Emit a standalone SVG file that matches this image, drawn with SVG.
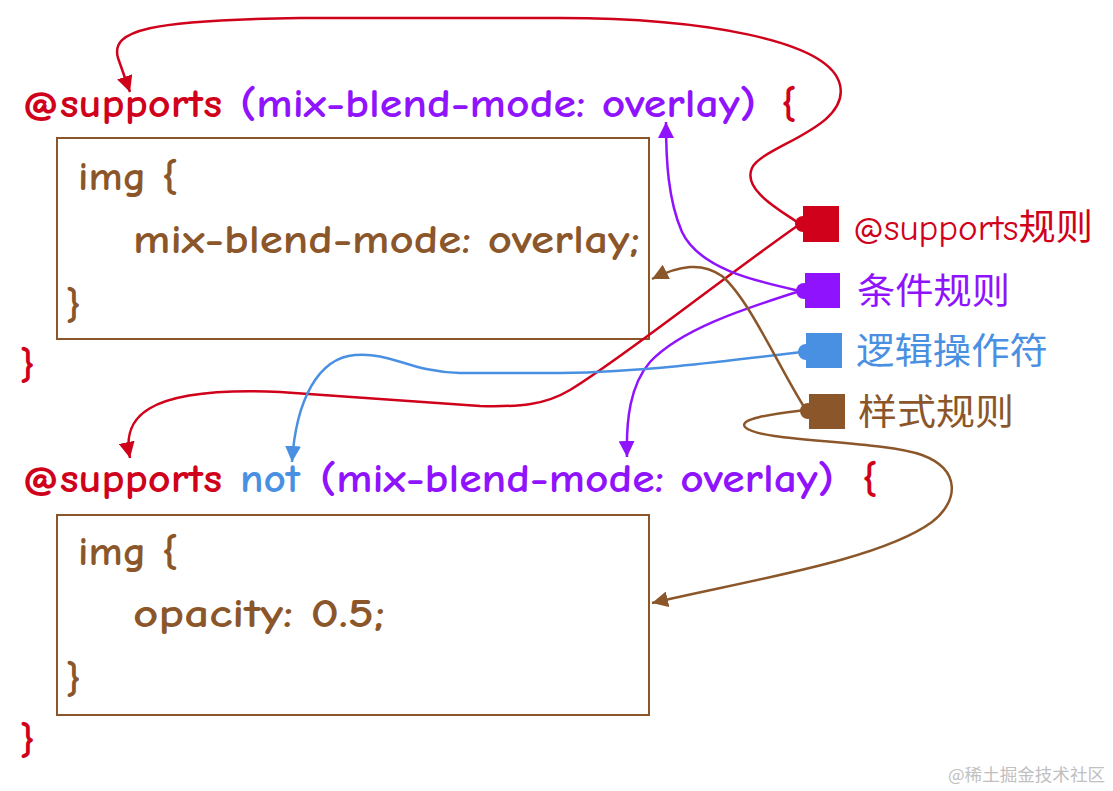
<svg xmlns="http://www.w3.org/2000/svg" width="1113" height="791" viewBox="0 0 1113 791">
<defs>
<style>
.code{font-family:"Comic Neue","DejaVu Sans","Noto Sans CJK SC",sans-serif;font-size:40px;font-weight:bold}
.cjk{font-family:"Noto Sans CJK SC",sans-serif;font-size:36px;font-weight:normal}
.red{fill:#D0021B}.pur{fill:#9013FE}.blu{fill:#4A90E2}.brn{fill:#8B572A}
.box{fill:none;stroke:#8B572A;stroke-width:2}
.c{fill:none;stroke-width:2.5}
</style>
<marker id="aR" markerUnits="userSpaceOnUse" markerWidth="18" markerHeight="16" refX="16" refY="8" orient="auto"><path d="M0,0 L16,8 L0,16 Z" fill="#D0021B"/></marker>
<marker id="aP" markerUnits="userSpaceOnUse" markerWidth="18" markerHeight="16" refX="16" refY="8" orient="auto"><path d="M0,0 L16,8 L0,16 Z" fill="#9013FE"/></marker>
<marker id="aB" markerUnits="userSpaceOnUse" markerWidth="18" markerHeight="16" refX="16" refY="8" orient="auto"><path d="M0,0 L16,8 L0,16 Z" fill="#4A90E2"/></marker>
<marker id="aN" markerUnits="userSpaceOnUse" markerWidth="18" markerHeight="16" refX="16" refY="8" orient="auto"><path d="M0,0 L16,8 L0,16 Z" fill="#8B572A"/></marker>
</defs>
<rect width="1113" height="791" fill="#fff"/>

<g id="block1">
<text class="code red" x="22" y="117" textLength="200" lengthAdjust="spacingAndGlyphs">@supports</text>
<text class="code pur" x="240" y="117" textLength="516" lengthAdjust="spacingAndGlyphs">(mix-blend-mode: overlay)</text>
<text class="code red" x="781" y="117">{</text>
<rect class="box" x="57" y="138" width="592" height="201"/>
<text class="code brn" x="78" y="190" textLength="100" lengthAdjust="spacingAndGlyphs">img {</text>
<text class="code brn" x="133" y="253" textLength="507" lengthAdjust="spacingAndGlyphs">mix-blend-mode: overlay;</text>
<text class="code brn" x="66" y="318">}</text>
<text class="code red" x="20" y="378">}</text>
</g>

<g id="block2">
<text class="code red" x="22" y="492" textLength="200" lengthAdjust="spacingAndGlyphs">@supports</text>
<text class="code blu" x="240" y="492" textLength="60" lengthAdjust="spacingAndGlyphs">not</text>
<text class="code pur" x="320" y="492" textLength="514" lengthAdjust="spacingAndGlyphs">(mix-blend-mode: overlay)</text>
<text class="code red" x="862" y="492">{</text>
<rect class="box" x="57" y="515" width="592" height="200"/>
<text class="code brn" x="78" y="565" textLength="100" lengthAdjust="spacingAndGlyphs">img {</text>
<text class="code brn" x="133" y="627" textLength="252" lengthAdjust="spacingAndGlyphs">opacity: 0.5;</text>
<text class="code brn" x="66" y="692">}</text>
<text class="code red" x="20" y="753">}</text>
</g>

<g id="connectors">
<path class="c" stroke="#D0021B" marker-end="url(#aR)" d="M800,224 C780,210 742,190 752,168 C762,146 850,128 840,85 C830,40 700,18 560,18 L300,18 C150,20 110,30 118,58 L130,92"/>
<path class="c" stroke="#D0021B" marker-end="url(#aR)" d="M800,224 C720,280 620,360 570,390 C545,405 520,407 480,406 L280,392 C140,386 122,420 130,458"/>
<path class="c" stroke="#9013FE" marker-end="url(#aP)" d="M800,291 C760,282 700,270 682,232 C668,200 666,160 666,122"/>
<path class="c" stroke="#9013FE" marker-end="url(#aP)" d="M800,291 C740,310 680,330 650,362 C630,385 626,420 627,457"/>
<path class="c" stroke="#4A90E2" marker-end="url(#aB)" d="M802,352 C720,362 640,372 560,373 L460,373 C410,372 392,352 355,355 C318,358 296,400 292,462"/>
<path class="c" stroke="#8B572A" marker-end="url(#aN)" d="M806,410 C780,370 750,300 722,276 C702,262 680,265 652,279"/>
<path class="c" stroke="#8B572A" marker-end="url(#aN)" d="M806,410 C775,414 738,418 745,427 C758,442 880,440 922,455 C962,470 958,502 932,522 C880,560 750,580 652,603"/>
</g>

<g id="legend-supports">
<circle cx="803" cy="224" r="8" fill="#D0021B"/>
<rect x="803" y="206" width="36" height="36" fill="#D0021B"/>
<text class="code red" x="853" y="240" textLength="240" lengthAdjust="spacingAndGlyphs" style="font-size:36px;font-weight:normal">@supports<tspan class="cjk">规则</tspan></text>
</g>
<g id="legend-condition">
<circle cx="804" cy="291" r="8" fill="#9013FE"/>
<rect x="805" y="273" width="35" height="35" fill="#9013FE"/>
<text class="cjk pur" x="857" y="304" textLength="153" lengthAdjust="spacingAndGlyphs">条件规则</text>
</g>
<g id="legend-logic">
<circle cx="806" cy="352" r="8" fill="#4A90E2"/>
<rect x="806" y="333" width="36" height="35" fill="#4A90E2"/>
<text class="cjk blu" x="856" y="364" textLength="192" lengthAdjust="spacingAndGlyphs">逻辑操作符</text>
</g>
<g id="legend-style">
<circle cx="808" cy="411" r="8" fill="#8B572A"/>
<rect x="809" y="394" width="36" height="35" fill="#8B572A"/>
<text class="cjk brn" x="858" y="425" textLength="156" lengthAdjust="spacingAndGlyphs">样式规则</text>
</g>

<text x="948" y="781" font-family="Noto Sans CJK SC, sans-serif" font-size="17" fill="#c0c0c0" textLength="157" lengthAdjust="spacingAndGlyphs">@稀土掘金技术社区</text>
</svg>
